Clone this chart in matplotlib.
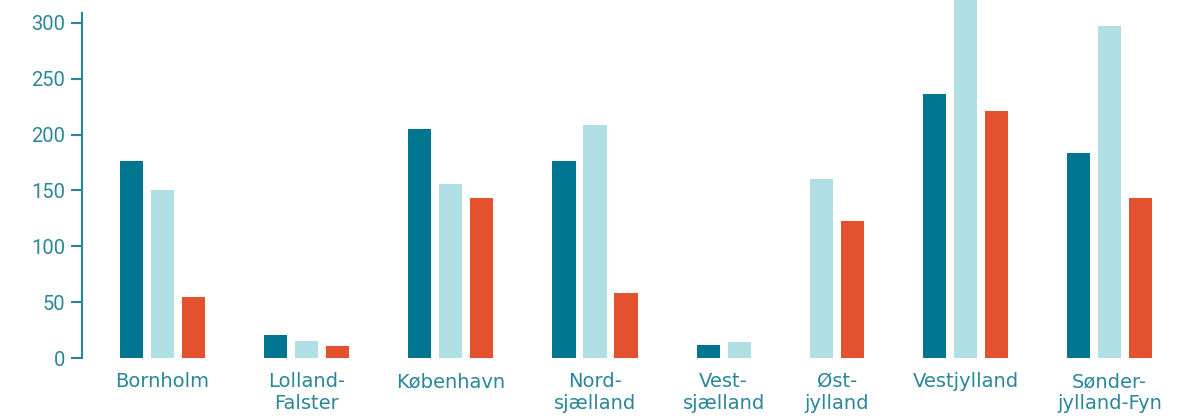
import matplotlib.pyplot as plt
import numpy as np

plt.rcParams['font.family'] = ['Roboto', 'DejaVu Sans']

regions = ['Bornholm', 'Lolland-\nFalster', 'København', 'Nord-\nsjælland', 'Vest-\nsjælland',
           'Øst-\njylland', 'Vestjylland', 'Sønder-\njylland-Fyn']
series_a = [176, 21, 205, 176, 12, 0, 236, 184]
series_b = [150, 15, 156, 209, 14, 160, 330, 297]
series_c = [55, 11, 143, 58, 0, 123, 221, 143]

colors = ['#00758f', '#afdfe4', '#e4512e']
text_col = '#2a8797'

fig = plt.figure(figsize=(11.79, 4.16), dpi=100)
ax = fig.add_axes([0.0696, 0.1394, 0.9304, 0.8296])

# bars with value 0 are left out and the rest of the group closes up
step, gap, width = 1.0, 2.65, 0.75
pos = 0.0
centers = []
for i in range(len(regions)):
    vals = [series_a[i], series_b[i], series_c[i]]
    xs = []
    for v, c in zip(vals, colors):
        if v == 0:
            continue
        if xs:
            pos += step
        ax.bar(pos, v, width=width, color=c, clip_on=False, zorder=2)
        xs.append(pos)
    centers.append(np.mean(xs))
    pos += gap

ax.set_xlim(-1.597, 33.79)
ax.set_ylim(0, 309)
ax.set_yticks([0, 50, 100, 150, 200, 250, 300])
ax.set_xticks(centers)
ax.set_xticklabels(regions, linespacing=1.2, family=['DejaVu Sans'], fontsize=14)

for s in ['top', 'right', 'bottom']:
    ax.spines[s].set_visible(False)
ax.spines['left'].set_color(text_col)
ax.spines['left'].set_linewidth(1.5)
ax.tick_params(axis='y', colors=text_col, labelsize=14.5, length=8, width=1.5, pad=4)
ax.tick_params(axis='x', colors=text_col, length=0, pad=10)

fig.savefig('out.png', dpi=100)
